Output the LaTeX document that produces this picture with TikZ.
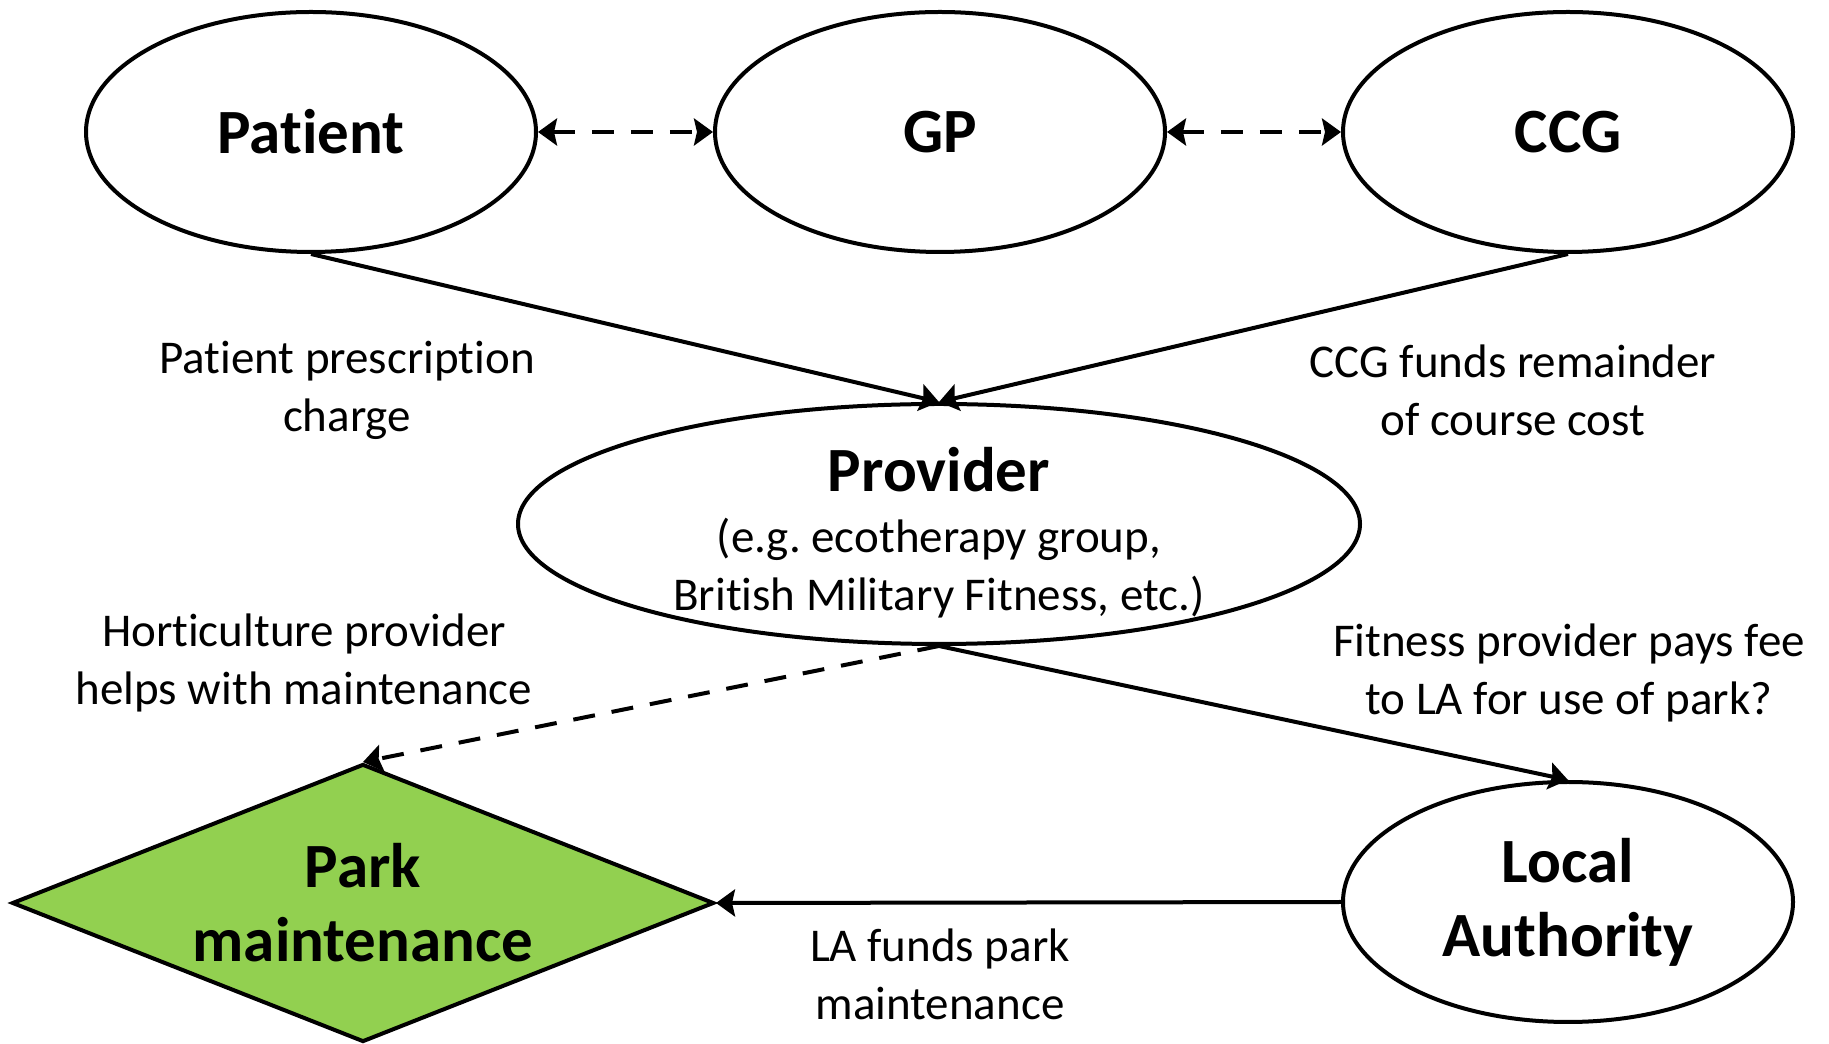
\documentclass[tikz,border=0pt]{standalone}
\usepackage{fontspec}
\setmainfont[Ligatures=NoCommon]{Carlito}
\usetikzlibrary{shapes.geometric,arrows.meta}
\definecolor{parkgreen}{HTML}{92D050}

\tikzset{
  tip/.tip={Stealth[length=19pt,width=27pt,inset=3pt]},
  blob/.style={draw, ellipse, line width=4pt, minimum width=450pt, minimum height=240pt, inner sep=0pt, align=center, font=\bfseries\fontsize{63}{74}\selectfont},
  note/.style={align=center, font=\fontsize{47}{58}\selectfont},
  flow/.style={line width=4pt, -tip},
  talk/.style={line width=4pt, tip-tip, dash pattern=on 22pt off 17pt},
}

\begin{document}
\begin{tikzpicture}[x=1pt,y=1pt]
\useasboundingbox (0,0) rectangle (1829,1044);

% people and funders
\node [blob] (patient) at (311,912) {Patient};
\node [blob] (gp) at (940,912) {GP};
\node [blob] (ccg) at (1568,912) {CCG};

% provider
\node [blob, minimum width=842pt] (provider) at (939,520) {};
\node [note] (providertext) at (939,511) {{\bfseries\fontsize{63}{74}\selectfont Provider}\\[3pt](e.g.\ ecotherapy group,\\British Military Fitness, etc.)};

% park side
\node [draw, diamond, aspect=2.525, fill=parkgreen, line width=4pt, minimum width=702pt, minimum height=278pt, inner sep=0pt, align=center, font=\bfseries\fontsize{63}{74}\selectfont] (park) at (363,141) {Park\\maintenance};
\node [blob] (la) at (1568,142) {Local\\Authority};

\draw [talk] (patient.east) -- (gp.west);
\draw [talk] (gp.east) -- (ccg.west);

\draw [flow] (patient.south) -- (provider.north);
\draw [flow] (ccg.south) -- (provider.north);
\draw [flow, dash pattern=on 22pt off 17pt] (provider.south) -- (park.north);
\draw [flow] (provider.south) -- (la.north);
\draw [flow] (la.west) -- (park.east);

% money labels
\node [note] (prescription) at (347,654) {Patient prescription\\charge};
\node [note] (remainder) at (1513,654) {CCG funds remainder\\of course cost};
\node [note] (horticulture) at (304,381) {Horticulture provider\\helps with maintenance};
\node [note] (fee) at (1569,371) {Fitness provider pays fee\\to LA for use of park?};
\node [note] (lafunds) at (940,70) {LA funds park\\maintenance};
\end{tikzpicture}
\end{document}
